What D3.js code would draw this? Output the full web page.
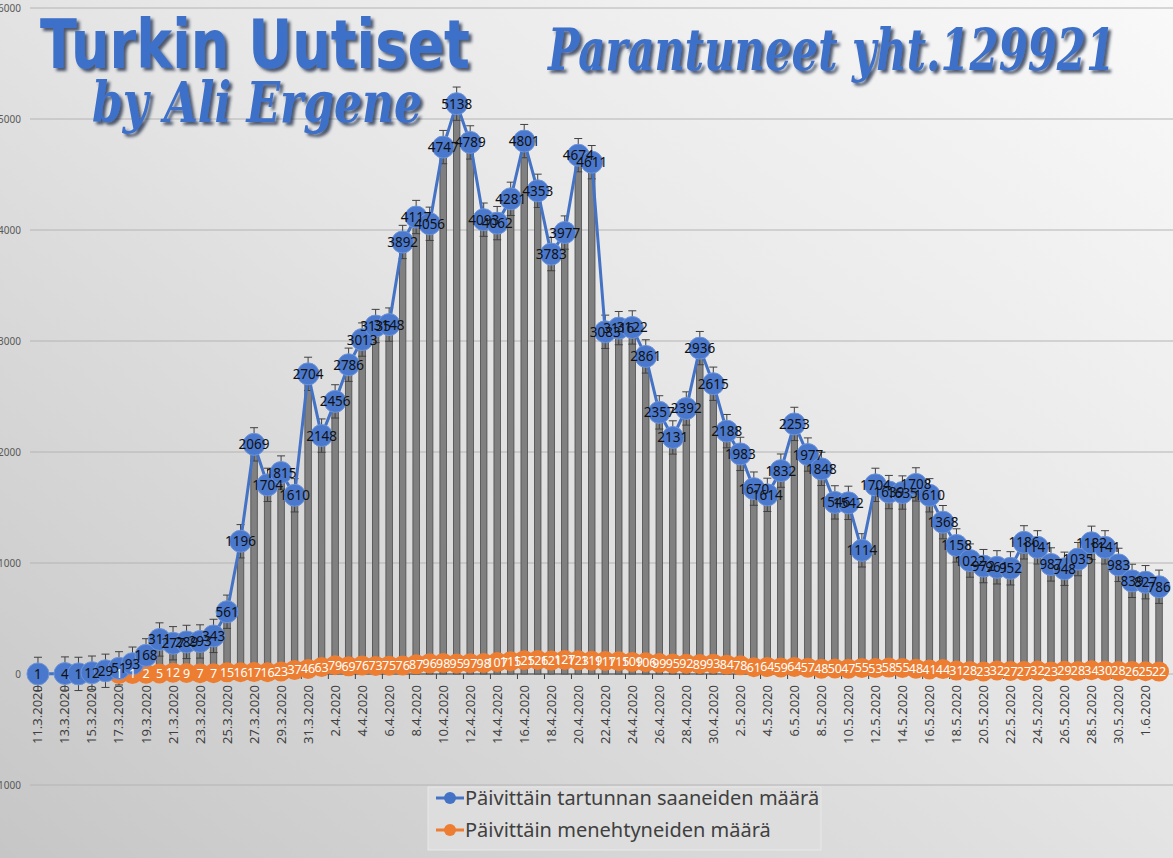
<!DOCTYPE html>
<html>
<head>
<meta charset="utf-8">
<script src="https://cdn.jsdelivr.net/npm/d3@7/dist/d3.min.js"></script>
<style>
    body { margin: 0; overflow: hidden; }
    svg { display: block; }
</style>
</head>
<body>
<svg id="chart"></svg>
<script>
// categories: one per day, 11.3.2020 - 2.6.2020
var dates = [
    "11.3.2020","12.3.2020","13.3.2020","14.3.2020","15.3.2020","16.3.2020","17.3.2020","18.3.2020","19.3.2020","20.3.2020",
    "21.3.2020","22.3.2020","23.3.2020","24.3.2020","25.3.2020","26.3.2020","27.3.2020","28.3.2020","29.3.2020","30.3.2020",
    "31.3.2020","1.4.2020","2.4.2020","3.4.2020","4.4.2020","5.4.2020","6.4.2020","7.4.2020","8.4.2020","9.4.2020",
    "10.4.2020","11.4.2020","12.4.2020","13.4.2020","14.4.2020","15.4.2020","16.4.2020","17.4.2020","18.4.2020","19.4.2020",
    "20.4.2020","21.4.2020","22.4.2020","23.4.2020","24.4.2020","25.4.2020","26.4.2020","27.4.2020","28.4.2020","29.4.2020",
    "30.4.2020","1.5.2020","2.5.2020","3.5.2020","4.5.2020","5.5.2020","6.5.2020","7.5.2020","8.5.2020","9.5.2020",
    "10.5.2020","11.5.2020","12.5.2020","13.5.2020","14.5.2020","15.5.2020","16.5.2020","17.5.2020","18.5.2020","19.5.2020",
    "20.5.2020","21.5.2020","22.5.2020","23.5.2020","24.5.2020","25.5.2020","26.5.2020","27.5.2020","28.5.2020","29.5.2020",
    "30.5.2020","31.5.2020","1.6.2020","2.6.2020"
];

// Päivittäin tartunnan saaneiden määrä (12.3 missing)
var cases = [
    1, null, 4, 1, 12, 29, 51, 93, 168, 311,
    277, 289, 293, 343, 561, 1196, 2069, 1704, 1815, 1610,
    2704, 2148, 2456, 2786, 3013, 3135, 3148, 3892, 4117, 4056,
    4747, 5138, 4789, 4093, 4062, 4281, 4801, 4353, 3783, 3977,
    4674, 4611, 3083, 3116, 3122, 2861, 2357, 2131, 2392, 2936,
    2615, 2188, 1983, 1670, 1614, 1832, 2253, 1977, 1848, 1546,
    1542, 1114, 1704, 1639, 1635, 1708, 1610, 1368, 1158, 1022,
    972, 961, 952, 1186, 1141, 987, 948, 1035, 1182, 1141,
    983, 839, 827, 786
];

// Päivittäin menehtyneiden määrä (starts 17.3)
var deaths = [
    null, null, null, null, null, null, 1, 1, 2, 5,
    12, 9, 7, 7, 15, 16, 17, 16, 23, 37,
    46, 63, 79, 69, 76, 73, 75, 76, 87, 96,
    98, 95, 97, 98, 107, 115, 125, 126, 121, 127,
    123, 119, 117, 115, 109, 106, 99, 95, 92, 89,
    93, 84, 78, 61, 64, 59, 64, 57, 48, 50,
    47, 55, 53, 58, 55, 48, 41, 44, 31, 28,
    23, 32, 27, 27, 32, 23, 29, 28, 34, 30,
    28, 26, 25, 22
];

var yTicks = [-1000, 0, 1000, 2000, 3000, 4000, 5000, 6000];
var errBar = 150;

var W = 1173, H = 858;
var blue = "#4472c4", orange = "#ed7d31";

var svg = d3.select("#chart").attr("width", W).attr("height", H);

// background gradient + shadow filter
var defs = svg.append("defs");
var grad = defs.append("linearGradient").attr("id", "bg")
    .attr("x1", "1").attr("y1", "0").attr("x2", "0").attr("y2", "1");
grad.append("stop").attr("offset", "0%").attr("stop-color", "#f9f9f9");
grad.append("stop").attr("offset", "45%").attr("stop-color", "#e6e6e6");
grad.append("stop").attr("offset", "100%").attr("stop-color", "#c6c6c6");
var sh = defs.append("filter").attr("id", "shadow")
    .attr("x", "-10%").attr("y", "-20%").attr("width", "130%").attr("height", "160%");
sh.append("feDropShadow").attr("dx", 3).attr("dy", 3).attr("stdDeviation", 1.5)
    .attr("flood-color", "#1b2a44").attr("flood-opacity", 0.75);

svg.append("rect").attr("width", W).attr("height", H).attr("fill", "url(#bg)");

// scales
var x = d3.scaleBand().domain(dates).range([31.2, 1165.8]);
var y = d3.scaleLinear().domain([-1000, 6000]).range([785, 8]);
var cx = function (d) { return x(d) + x.bandwidth() / 2; };

// gridlines + y labels
svg.append("g").selectAll("line").data(yTicks).join("line")
    .attr("x1", 30).attr("x2", W)
    .attr("y1", function (d) { return y(d); }).attr("y2", function (d) { return y(d); })
    .attr("stroke", "#b4b4b4").attr("stroke-width", 1);
svg.append("g").selectAll("text").data(yTicks).join("text")
    .attr("x", 21).attr("y", function (d) { return y(d) + 3.5; })
    .attr("text-anchor", "end")
    .attr("font-family", "Noto Sans, sans-serif").attr("font-size", 10)
    .attr("fill", "#595959")
    .text(function (d) { return d; });

// x axis line and ticks (every 2 categories)
svg.append("line").attr("x1", x.range()[0]).attr("x2", x.range()[1])
    .attr("y1", y(0)).attr("y2", y(0)).attr("stroke", "#404040").attr("stroke-width", 1.2);
svg.append("g").selectAll("line").data(dates.filter(function (d, i) { return i % 2 === 0; })).join("line")
    .attr("x1", function (d) { return x(d); }).attr("x2", function (d) { return x(d); })
    .attr("y1", y(0)).attr("y2", y(0) + 5).attr("stroke", "#404040");

// x labels rotated
svg.append("g").selectAll("text").data(dates.filter(function (d, i) { return i % 2 === 0; })).join("text")
    .attr("transform", function (d) { return "translate(" + (cx(d) + 4.5) + "," + 685 + ") rotate(-90)"; })
    .attr("text-anchor", "end")
    .attr("font-family", "Noto Sans, sans-serif").attr("font-size", 13)
    .attr("fill", "#404040")
    .text(function (d) { return d; });

var pts = dates.map(function (d, i) { return { date: d, c: cases[i], dth: deaths[i] }; });
var casePts = pts.filter(function (p) { return p.c != null; });
var deathPts = pts.filter(function (p) { return p.dth != null; });

// bars
var bw = x.bandwidth() * 0.48;
svg.append("g").selectAll("rect").data(casePts).join("rect")
    .attr("x", function (p) { return cx(p.date) - bw / 2; })
    .attr("width", bw)
    .attr("y", function (p) { return y(p.c); })
    .attr("height", function (p) { return y(0) - y(p.c); })
    .attr("fill", "#808080").attr("stroke", "#4a4a4a").attr("stroke-width", 0.8);

// error bars
var eb = svg.append("g").attr("stroke", "#404040").attr("stroke-width", 1);
eb.selectAll("line.v").data(casePts).join("line").attr("class", "v")
    .attr("x1", function (p) { return cx(p.date); }).attr("x2", function (p) { return cx(p.date); })
    .attr("y1", function (p) { return y(p.c + errBar); }).attr("y2", function (p) { return y(p.c - errBar); });
eb.selectAll("line.t").data(casePts).join("line").attr("class", "t")
    .attr("x1", function (p) { return cx(p.date) - 4; }).attr("x2", function (p) { return cx(p.date) + 4; })
    .attr("y1", function (p) { return y(p.c + errBar); }).attr("y2", function (p) { return y(p.c + errBar); });
eb.selectAll("line.b").data(casePts).join("line").attr("class", "b")
    .attr("x1", function (p) { return cx(p.date) - 4; }).attr("x2", function (p) { return cx(p.date) + 4; })
    .attr("y1", function (p) { return y(p.c - errBar); }).attr("y2", function (p) { return y(p.c - errBar); });

// deaths line + markers
svg.append("path").datum(deathPts)
    .attr("fill", "none").attr("stroke", orange).attr("stroke-width", 3)
    .attr("d", d3.line().x(function (p) { return cx(p.date); }).y(function (p) { return y(p.dth); }));
svg.append("g").selectAll("circle").data(deathPts).join("circle")
    .attr("cx", function (p) { return cx(p.date); }).attr("cy", function (p) { return y(p.dth); })
    .attr("r", 10).attr("fill", orange);

// cases line + markers
svg.append("path").datum(casePts)
    .attr("fill", "none").attr("stroke", blue).attr("stroke-width", 3)
    .attr("d", d3.line().x(function (p) { return cx(p.date); }).y(function (p) { return y(p.c); }));
svg.append("g").selectAll("circle").data(casePts).join("circle")
    .attr("cx", function (p) { return cx(p.date); }).attr("cy", function (p) { return y(p.c); })
    .attr("r", 11).attr("fill", "#4a78cc").attr("stroke", "#6e95da").attr("stroke-width", 1);

// data labels
svg.append("g").selectAll("text").data(deathPts).join("text")
    .attr("x", function (p) { return cx(p.date); }).attr("y", function (p) { return y(p.dth) + 4.5; })
    .attr("text-anchor", "middle")
    .attr("font-family", "Noto Sans, sans-serif").attr("font-size", 12.5)
    .attr("fill", "#ffffff")
    .text(function (p) { return p.dth; });
svg.append("g").selectAll("text").data(casePts).join("text")
    .attr("x", function (p) { return cx(p.date); }).attr("y", function (p) { return y(p.c) + 5; })
    .attr("text-anchor", "middle")
    .attr("font-family", "Noto Sans, sans-serif").attr("font-size", 13.5)
    .attr("fill", "#111")
    .text(function (p) { return p.c; });

// legend
var lg = svg.append("g");
lg.append("rect").attr("x", 428).attr("y", 787).attr("width", 393).attr("height", 63)
    .attr("fill", "#dddddd").attr("stroke", "#e8e8e8");
var legendItems = [
    { name: "Päivittäin tartunnan saaneiden määrä", color: blue },
    { name: "Päivittäin menehtyneiden määrä", color: orange }
];
legendItems.forEach(function (it, i) {
    var ly = 798 + i * 32;
    lg.append("line").attr("x1", 436).attr("x2", 464).attr("y1", ly).attr("y2", ly)
        .attr("stroke", it.color).attr("stroke-width", 3);
    lg.append("circle").attr("cx", 450).attr("cy", ly).attr("r", 6).attr("fill", it.color);
    lg.append("text").attr("x", 465).attr("y", ly + 7)
        .attr("font-family", "Noto Sans, sans-serif").attr("font-size", 20)
        .attr("fill", "#404040").text(it.name);
});

// titles
var tg = svg.append("g").attr("filter", "url(#shadow)").attr("fill", "#3d6fc8");
tg.append("text").attr("x", 40).attr("y", 68)
    .attr("textLength", 430).attr("lengthAdjust", "spacingAndGlyphs")
    .attr("font-family", "DejaVu Sans, sans-serif").attr("font-weight", "bold").attr("font-size", 68)
    .text("Turkin Uutiset");
tg.append("text").attr("x", 92).attr("y", 122)
    .attr("textLength", 330).attr("lengthAdjust", "spacingAndGlyphs")
    .attr("font-family", "DejaVu Serif, serif").attr("font-style", "italic").attr("font-weight", "bold").attr("font-size", 56)
    .text("by Ali Ergene");
tg.append("text").attr("x", 548).attr("y", 70)
    .attr("textLength", 567).attr("lengthAdjust", "spacingAndGlyphs")
    .attr("font-family", "DejaVu Serif, serif").attr("font-style", "italic").attr("font-weight", "bold").attr("font-size", 58)
    .text("Parantuneet yht.129921");
</script>
</body>
</html>
